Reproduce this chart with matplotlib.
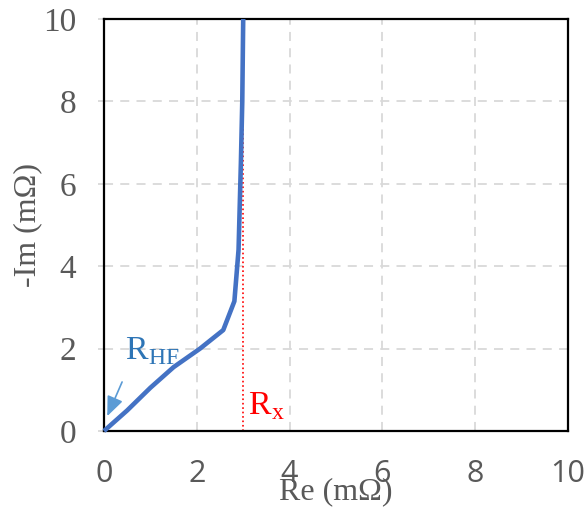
import matplotlib
matplotlib.use("Agg")
import matplotlib.pyplot as plt

re_vals = [0.0, 0.5, 1.0, 1.5, 2.07, 2.57, 2.81, 2.9, 2.95, 2.98, 3.0]
im_vals = [0.0, 0.5, 1.05, 1.55, 2.0, 2.45, 3.15, 4.4, 6.5, 8.0, 10.0]
rx_value = 3.0
ticks = [0, 2, 4, 6, 8, 10]

fig = plt.figure(figsize=(5.86, 5.12), dpi=100)
ax = fig.add_axes([104/586, 1-431/512, 464/586, 412/512])

ax.set_xlim(0, 10)
ax.set_ylim(0, 10)
ax.set_xticks(ticks)
ax.set_yticks(ticks)
ax.grid(True, color="#D9D9D9", linestyle=(0, (5, 4)), linewidth=1.3)
ax.set_axisbelow(True)

ax.plot([rx_value, rx_value], [0, 10], color="red", linestyle=":", linewidth=1.2, zorder=2)
ax.plot(re_vals, im_vals, color="#4472C4", linewidth=3.3, solid_capstyle="butt", zorder=3, clip_on=False)

for s in ax.spines.values():
    s.set_linewidth(1.6)
    s.set_color("black")

ax.tick_params(axis="x", length=0, pad=20, labelcolor="#595959")
ax.tick_params(axis="y", length=4, width=1.3, color="#D9D9D9", pad=16, labelcolor="#595959")
for lab in ax.get_xticklabels():
    lab.set_fontfamily("Open Sans")
    lab.set_fontsize(22)
for lab in ax.get_yticklabels():
    lab.set_fontfamily("Liberation Serif")
    lab.set_fontsize(24)

ax.set_xlabel("Re (mΩ)", family="Liberation Serif", fontsize=23, color="#595959")
ax.set_ylabel("-Im (mΩ)", family="Liberation Serif", fontsize=23, color="#595959")
ax.xaxis.set_label_coords(0.5, -0.112)
ax.yaxis.set_label_coords(-0.134, 0.5)

ax.text(0.45, 1.95, r"R$_{\mathregular{HF}}$", family="Liberation Serif", fontsize=24.5,
        color="#2E75B6", ha="left", va="center")
ax.annotate("", xy=(0.07, 0.36), xytext=(0.39, 1.19),
            arrowprops=dict(arrowstyle="-|>,head_length=0.6,head_width=0.25", color="#5B9BD5", lw=1.2,
                            mutation_scale=20, shrinkA=0, shrinkB=0))
ax.text(3.1, 0.6, r"R$_{\mathregular{x}}$", family="Liberation Serif", fontsize=24.5,
        color="red", ha="left", va="center")

fig.savefig("out.png", dpi=100)
